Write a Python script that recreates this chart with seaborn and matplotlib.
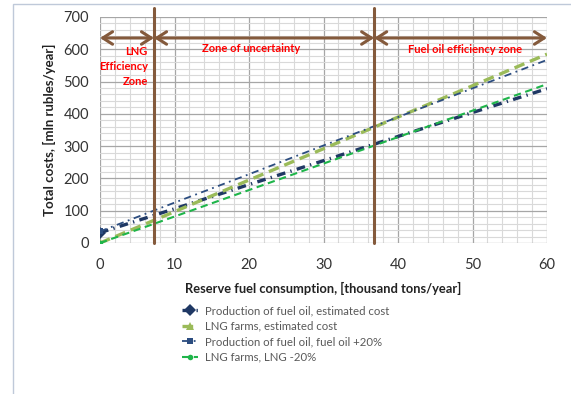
import numpy as np
import pandas as pd
import matplotlib
matplotlib.use('Agg')
import matplotlib.pyplot as plt
import seaborn as sns
from matplotlib.patches import Rectangle

# reserve fuel consumption, thousand tons/year
x_cons = [0, 10, 20, 30, 40, 50, 60]
# total costs, mln rubles/year
fuel_est = [32, 106, 181, 255, 330, 404, 478]
lng_est = [0, 97, 195, 292, 390, 487, 585]
fuel_p20 = [36, 125, 213, 302, 390, 479, 567]
lng_m20 = [0, 82, 164, 246, 328, 410, 492]

labels = ['Production of fuel oil, estimated cost',
          'LNG farms, estimated cost',
          'Production of fuel oil, fuel oil +20%',
          'LNG farms, LNG -20%']

zone_bounds = [7.25, 36.8]
zone_texts = ['LNG\nEfficiency\nZone', 'Zone of uncertainty', 'Fuel oil efficiency zone']

sns.set_style('white')
plt.rcParams['font.family'] = ['Lato', 'DejaVu Sans']

fig = plt.figure(figsize=(5.71, 3.94), dpi=100)
ax = fig.add_axes([100/571, 1-243/394, 447/571, 226/394])

# outer chart border (cut off on right/bottom)
fig.add_artist(Rectangle((13/571, -0.1), 1.2, 1-4/394+0.1, transform=fig.transFigure,
                         fill=False, edgecolor='#BFC9D9', lw=1.0))

styles = [
    dict(color='#1F3864', lw=2.4, linestyle=(0, (2.6, 1.6, 0.4, 1.6)), marker='D', ms=6),
    dict(color='#9BBB59', lw=2.4, linestyle=(0, (3.2, 1.8)), marker='^', ms=6),
    dict(color='#2C4D80', lw=1.3, linestyle=(0, (4, 2.5, 1, 2.5)), marker='s', ms=4),
    dict(color='#1FB54A', lw=1.5, linestyle=(0, (3.5, 2.2)), marker='o', ms=4),
]
series = [fuel_est, lng_est, fuel_p20, lng_m20]
for yv, lab, st in zip(series, labels, styles):
    df = pd.DataFrame({'x': x_cons, 'y': yv})
    sns.lineplot(data=df, x='x', y='y', ax=ax, label=lab, markevery=[0],
                 markeredgewidth=0, **st)

ax.set_xlim(0, 60)
ax.set_ylim(0, 700)
ax.set_xticks(np.arange(0, 61, 10))
ax.set_yticks(np.arange(0, 701, 100))
ax.set_xticks(np.arange(0, 61, 2), minor=True)
ax.set_yticks(np.arange(0, 701, 20), minor=True)
ax.grid(which='minor', color='#D9D9D9', lw=0.8)
ax.grid(which='major', color='#A6A6A6', lw=0.9)
ax.set_axisbelow(True)
for s in ax.spines.values():
    s.set_visible(False)
ax.tick_params(which='major', length=4, color='#A6A6A6', labelsize=10.5, labelcolor='#333333')
ax.tick_params(which='minor', length=0)
ax.tick_params(axis='x', pad=7)
ax.tick_params(axis='y', pad=4)

ax.set_xlabel('Reserve fuel consumption, [thousand tons/year]', fontsize=9.3,
              fontweight='bold', color='#222222', labelpad=7)
ax.set_ylabel('Total costs, [mln rubles/year]', fontsize=9.5, fontweight='bold',
              color='#222222', labelpad=5)

# zone boundaries and arrows
brown = '#845A3C'
for xb in zone_bounds:
    ax.plot([xb, xb], [0, 728], color=brown, lw=2.2, clip_on=False, zorder=5)
edges = [0] + zone_bounds + [60]
for a, b in zip(edges[:-1], edges[1:]):
    ax.annotate('', xy=(b, 635), xytext=(a, 635), annotation_clip=False, zorder=5,
                arrowprops=dict(arrowstyle='<->,head_length=0.7,head_width=0.45',
                                color=brown, lw=2.2, shrinkA=0, shrinkB=0))

ax.text(6.4, 546, zone_texts[0], ha='right', va='center', multialignment='right',
        color='#FF0000', fontsize=8, fontweight='bold', linespacing=1.45)
ax.text(20.3, 601, zone_texts[1], ha='center', va='center',
        color='#FF0000', fontsize=8, fontweight='bold')
ax.text(49.0, 598, zone_texts[2], ha='center', va='center',
        color='#FF0000', fontsize=8, fontweight='bold')

ax.legend_.remove()
h, l = ax.get_legend_handles_labels()
fig.legend(h, l, loc='upper left', bbox_to_anchor=(182/571, 1-305/394),
           bbox_transform=fig.transFigure, frameon=False, fontsize=8.2,
           labelcolor='#595959', handlelength=1.4, handletextpad=0.6,
           labelspacing=0.4, borderaxespad=0, borderpad=0)

fig.savefig('out.png', dpi=100)
